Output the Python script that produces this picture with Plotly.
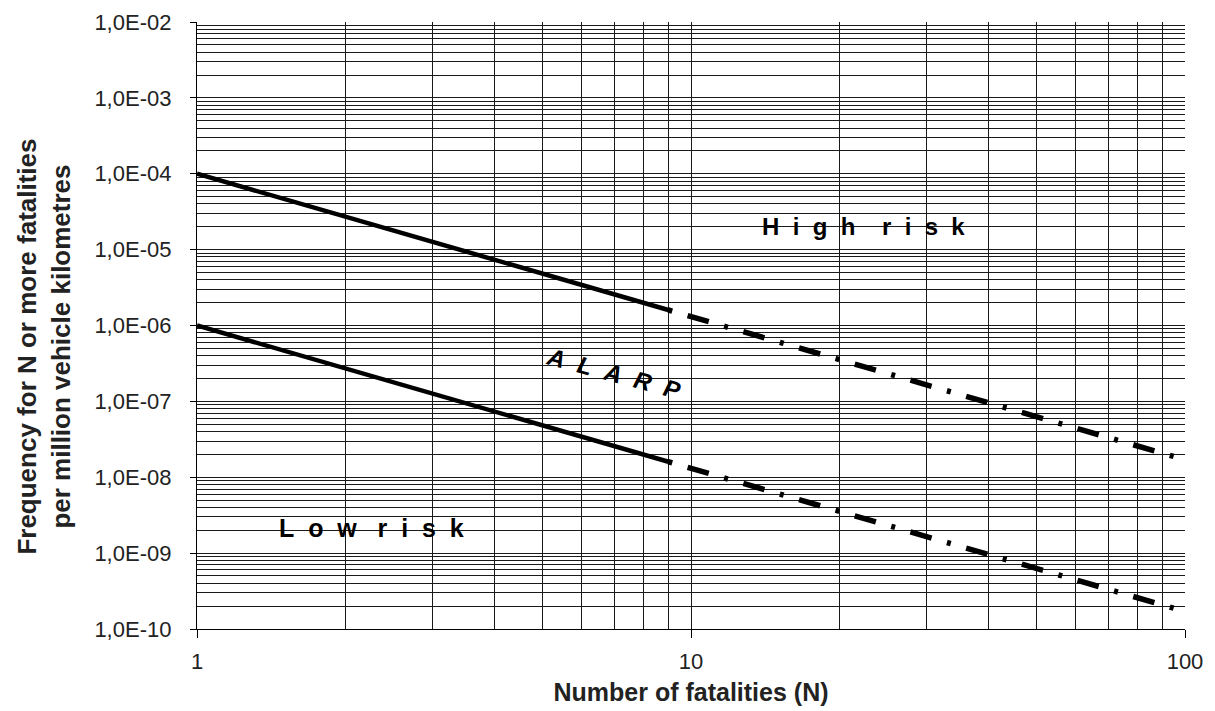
import plotly.graph_objects as go

# Data
upper_solid_x = [1, 9]
upper_solid_y = [1.0e-4, 1.6e-6]
upper_dash_x = [9, 100]
upper_dash_y = [1.6e-6, 1.7e-8]
lower_solid_x = [1, 9]
lower_solid_y = [1.0e-6, 1.6e-8]
lower_dash_x = [9, 100]
lower_dash_y = [1.6e-8, 1.7e-10]

y_tick_vals = [1e-2, 1e-3, 1e-4, 1e-5, 1e-6, 1e-7, 1e-8, 1e-9, 1e-10]
y_tick_text = ["1,0E-02", "1,0E-03", "1,0E-04", "1,0E-05", "1,0E-06",
               "1,0E-07", "1,0E-08", "1,0E-09", "1,0E-10"]
x_tick_vals = [1, 10, 100]
x_tick_text = ["1", "10", "100"]
mantissas = [2, 3, 4, 5, 6, 7, 8, 9]
x_decades = [1, 10]
y_decades = [1e-10, 1e-9, 1e-8, 1e-7, 1e-6, 1e-5, 1e-4, 1e-3]
x_minor = [m * d for d in x_decades for m in mantissas]
y_minor = [m * d for d in y_decades for m in mantissas]

FONT = "Liberation Sans, Arial, sans-serif"
NB = "\u00a0"

def spaced(word, gap=2, wordgap=4):
    out = []
    for w_i, w in enumerate(word.split(" ")):
        if w_i:
            out.append(NB * wordgap)
        out.append((NB * gap).join(list(w)))
    return "".join(out)

fig = go.Figure()
solid = dict(color="black", width=4.5)
dashed = dict(color="black", width=5.5, dash="4px,16px,22px,16px")
fig.add_trace(go.Scatter(x=upper_solid_x, y=upper_solid_y, mode="lines", line=solid, showlegend=False))
fig.add_trace(go.Scatter(x=upper_dash_x, y=upper_dash_y, mode="lines", line=dashed, showlegend=False))
fig.add_trace(go.Scatter(x=lower_solid_x, y=lower_solid_y, mode="lines", line=solid, showlegend=False))
fig.add_trace(go.Scatter(x=lower_dash_x, y=lower_dash_y, mode="lines", line=dashed, showlegend=False))

fig.add_annotation(x=1.35, y=-4.69, xref="x", yref="y", text="<b>" + spaced("High risk", 2, 4) + "</b>",
                   showarrow=False, font=dict(family=FONT, size=24, color="black"))
fig.add_annotation(x=0.353, y=-8.67, xref="x", yref="y", text="<b>" + spaced("Low risk", 2, 3) + "</b>",
                   showarrow=False, font=dict(family=FONT, size=25, color="black"))
fig.add_annotation(x=0.845, y=-6.63, xref="x", yref="y", text="<b><i>" + spaced("ALARP", 2) + "</i></b>",
                   showarrow=False, textangle=15, font=dict(family=FONT, size=24, color="black"))
# Y-axis title (placed as rotated text to match the reference's vertical offset)
fig.add_annotation(x=-0.155, y=0.465, xref="paper", yref="paper",
                   text="<b>Frequency for N or more fatalities<br>per million vehicle kilometres</b>",
                   showarrow=False, textangle=-90, xanchor="center", yanchor="middle",
                   font=dict(family=FONT, size=26, color="#222"))

grid_col = "#1a1a1a"
fig.update_xaxes(type="log", range=[0, 2], tickvals=x_tick_vals, ticktext=x_tick_text,
                 ticks="outside", ticklen=8, tickcolor="black", tickwidth=1.3,
                 ticklabelstandoff=4,
                 showgrid=True, gridcolor=grid_col, gridwidth=1.2,
                 minor=dict(tickmode="array", tickvals=x_minor, showgrid=True,
                            gridcolor=grid_col, gridwidth=1.2, ticks=""),
                 showline=True, linecolor="black", linewidth=1.3, mirror=False,
                 tickfont=dict(family=FONT, size=22, color="#222"),
                 title=dict(text="<b>Number of fatalities (N)</b>", font=dict(family=FONT, size=25, color="#222"), standoff=10),
                 zeroline=False, automargin=False)
fig.update_yaxes(type="log", range=[-10, -2], tickvals=y_tick_vals, ticktext=y_tick_text,
                 ticks="outside", ticklen=6, tickcolor="black", tickwidth=1.3,
                 ticklabelstandoff=14,
                 showgrid=True, gridcolor=grid_col, gridwidth=1.2,
                 minor=dict(tickmode="array", tickvals=y_minor, showgrid=True,
                            gridcolor=grid_col, gridwidth=1.2, ticks=""),
                 showline=True, linecolor="black", linewidth=1.3,
                 tickfont=dict(family=FONT, size=22, color="#222"),
                 zeroline=False, automargin=False)
fig.update_layout(width=1215, height=711, plot_bgcolor="white", paper_bgcolor="white",
                  margin=dict(l=189, r=38, t=14, b=90))
fig.write_html("out.html")
